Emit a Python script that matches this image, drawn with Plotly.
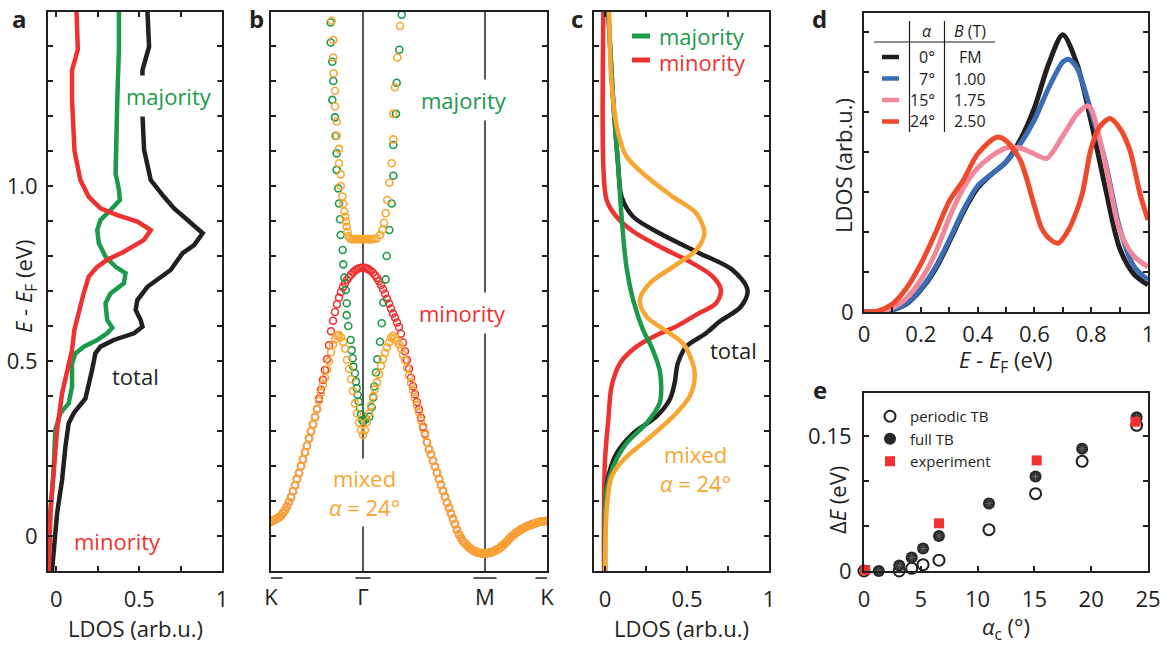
import plotly.graph_objects as go

W, H = 1169, 647
FONT = "Open Sans"
BLACK = "#231f20"
GREEN = "#1b9a4a"
RED = "#ee3131"
ORANGE = "#f8a631"
BLUE = "#3b6db5"
PINK = "#f1879a"
VERMILION = "#ef4a2b"

# ---------------- panel a : LDOS (collinear) ----------------
a_tot_x = [0.55, 0.56, 0.52, 0.52, 0.53, 0.57, 0.65, 0.711, 0.792, 0.883, 0.832, 0.762, 0.69, 0.55,
           0.489, 0.479, 0.509, 0.52, 0.469, 0.347, 0.267, 0.236, 0.216, 0.196, 0.176, 0.105, 0.075,
           0.055, 0.035, 0.005, -0.016, -0.026]
a_tot_E = [1.50, 1.398, 1.331, 1.203, 1.103, 1.017, 0.969, 0.936, 0.903, 0.865, 0.831, 0.808, 0.76, 0.712,
           0.674, 0.646, 0.617, 0.598, 0.579, 0.56, 0.541, 0.522, 0.474, 0.427, 0.393, 0.351, 0.322,
           0.255, 0.16, 0.065, -0.03, -0.1]
a_maj_x = [0.378, 0.378, 0.368, 0.358, 0.358, 0.378, 0.384, 0.327, 0.267, 0.247, 0.257, 0.297, 0.358,
           0.418, 0.408, 0.327, 0.297, 0.307, 0.338, 0.307, 0.247, 0.166, 0.116, 0.095, 0.095, 0.075,
           0.025, -0.006, -0.016, -0.036, -0.046]
a_maj_E = [1.50, 1.39, 1.246, 1.103, 1.036, 0.989, 0.96, 0.931, 0.903, 0.874, 0.836, 0.798, 0.769,
           0.751, 0.722, 0.693, 0.665, 0.617, 0.595, 0.579, 0.56, 0.541, 0.522, 0.493, 0.427, 0.379,
           0.351, 0.303, 0.189, 0.065, -0.1]
a_min_x = [0.122, 0.13, 0.095, 0.095, 0.11, 0.145, 0.196, 0.267, 0.368, 0.489, 0.57, 0.53, 0.408, 0.307,
           0.247, 0.196, 0.165, 0.135, 0.109, 0.095, 0.065, 0.035, 0.005, -0.016, -0.036, -0.046]
a_min_E = [1.50, 1.39, 1.33, 1.246, 1.10, 1.017, 0.969, 0.936, 0.917, 0.898, 0.874, 0.846, 0.812, 0.789,
           0.769, 0.741, 0.693, 0.636, 0.589, 0.531, 0.474, 0.408, 0.303, 0.189, 0.065, -0.1]

# ---------------- panel b : bands (path coordinate, K=0, G=92, M=214, K=276) ----------------
b_tick_k = [0, 92, 214, 276]
b_tick_lab = ["K", "Γ", "M", "K"]
b_step = 2
b_mix_E = [0.041, 0.044, 0.047, 0.050, 0.054, 0.058, 0.066, 0.074, 0.085, 0.097,
           0.111, 0.128, 0.145, 0.163, 0.180, 0.200, 0.219, 0.239, 0.258, 0.279,
           0.299, 0.319, 0.340, 0.363, 0.386, 0.409, 0.432, 0.452, 0.475, 0.499,
           0.525, 0.547, 0.562, 0.572, 0.574, 0.568, 0.555, 0.535, 0.503, 0.477,
           0.448, 0.414, 0.379, 0.350, 0.324, 0.302, 0.289, 0.302, 0.325, 0.350,
           0.373, 0.399, 0.419, 0.439, 0.462, 0.486, 0.506, 0.523, 0.539, 0.553,
           0.566, 0.572, 0.566, 0.558, 0.547, 0.535, 0.518, 0.503, 0.480, 0.458,
           0.437, 0.416, 0.393, 0.373, 0.353, 0.330, 0.308, 0.289, 0.268, 0.248,
           0.233, 0.215, 0.198, 0.181, 0.163, 0.146, 0.129, 0.112, 0.095, 0.080,
           0.064, 0.049, 0.034, 0.018, 0.005, -0.006, -0.015, -0.021, -0.027, -0.032,
           -0.037, -0.041, -0.044, -0.046, -0.048, -0.049, -0.050, -0.050, -0.049, -0.048,
           -0.047, -0.045, -0.042, -0.039, -0.036, -0.031, -0.026, -0.021, -0.015, -0.009,
           -0.003, 0.002, 0.007, 0.011, 0.015, 0.019, 0.022, 0.025, 0.028, 0.030,
           0.032, 0.034, 0.036, 0.038, 0.040, 0.041, 0.042, 0.043, 0.043]
b_min_E = [0.041, 0.044, 0.047, 0.050, 0.054, 0.058, 0.066, 0.074, 0.085, 0.097,
           0.111, 0.128, 0.145, 0.163, 0.180, 0.200, 0.219, 0.239, 0.258, 0.279,
           0.299, 0.319, 0.340, 0.363, 0.392, 0.418, 0.446, 0.474, 0.505, 0.545,
           0.585, 0.615, 0.640, 0.662, 0.681, 0.697, 0.711, 0.722, 0.732, 0.740,
           0.747, 0.753, 0.758, 0.762, 0.765, 0.766, 0.766, 0.766, 0.764, 0.761,
           0.757, 0.752, 0.745, 0.737, 0.728, 0.717, 0.705, 0.692, 0.678, 0.664,
           0.650, 0.636, 0.624, 0.610, 0.597, 0.578, 0.553, 0.528, 0.503, 0.478,
           0.452, 0.428, 0.405, 0.383, 0.362, 0.338, 0.312, 0.292, 0.268, 0.248,
           0.233, 0.215, 0.198, 0.181, 0.163, 0.146, 0.129, 0.112, 0.095, 0.080,
           0.064, 0.049, 0.034, 0.018, 0.005, -0.006, -0.015, -0.021, -0.027, -0.032,
           -0.037, -0.041, -0.044, -0.046, -0.048, -0.049, -0.050, -0.050, -0.049, -0.048,
           -0.047, -0.045, -0.042, -0.039, -0.036, -0.031, -0.026, -0.021, -0.015, -0.009,
           -0.003, 0.002, 0.007, 0.011, 0.015, 0.019, 0.022, 0.025, 0.028, 0.030,
           0.032, 0.034, 0.036, 0.038, 0.040, 0.041, 0.042, 0.043, 0.043]
b_maj_k = [59.7, 59.7, 61.3, 62.3, 61.3, 64.0, 64.7, 65.7, 65.7, 67.3, 68.0, 69.0, 69.7, 71.7, 72.3,
           73.3, 74.7, 75.7, 75.7, 77.3, 79.7, 80.7, 81.7, 82.3, 84.0, 85.0, 85.7, 86.7, 87.7, 89.0,
           90.0, 91.3, 92.5, 95.0, 98.3, 100.7, 102.3, 103.3, 105.0, 106.3, 109.0, 110.7, 112.3,
           114.7, 115.7, 118.3, 120.7, 122.3, 122.3, 125.0, 125.7, 128.3, 130.7]
b_maj_E = [1.467, 1.41, 1.355, 1.30, 1.246, 1.196, 1.143, 1.093, 1.046, 0.993, 0.95, 0.905, 0.86, 0.817,
           0.776, 0.738, 0.703, 0.665, 0.631, 0.60, 0.56, 0.531, 0.508, 0.484, 0.465, 0.441, 0.422,
           0.403, 0.384, 0.365, 0.347, 0.331, 0.327, 0.334, 0.341, 0.368, 0.396, 0.427, 0.467, 0.505,
           0.555, 0.608, 0.667, 0.733, 0.80, 0.874, 0.95, 1.029, 1.117, 1.206, 1.295, 1.389, 1.489]
b_mixup_k = [60.7, 62.3, 62.3, 62.7, 64.0, 64.0, 65.7, 65.7, 68.0, 68.0, 69.7, 69.7, 71.3, 72.3, 73.3,
             74.3, 75.0, 75.7, 76.3, 77.3, 79.0, 81, 83, 85, 87, 89, 91, 93, 95, 97, 99, 101, 103,
             105.7, 109.0, 111.3, 113.0, 114.7, 116.3, 118.3, 120.7, 122.3, 122.3, 124.0, 126.3, 129.0]
b_mixup_E = [1.472, 1.417, 1.367, 1.322, 1.272, 1.227, 1.184, 1.143, 1.106, 1.065, 1.033, 1.0, 0.97,
             0.949, 0.927, 0.912, 0.898, 0.884, 0.869, 0.857, 0.85, 0.848, 0.848, 0.848, 0.848, 0.848,
             0.848, 0.848, 0.848, 0.848, 0.848, 0.848, 0.849, 0.85, 0.86, 0.874, 0.895, 0.922, 0.96,
             1.009, 1.065, 1.133, 1.206, 1.282, 1.367, 1.457]

# ---------------- panel c : LDOS (mixed) ----------------
c_min_x = [-0.01, -0.01, 0.01, 0.07, 0.172, 0.333, 0.535, 0.657, 0.707, 0.677, 0.56, 0.44, 0.333,
           0.192, 0.091, 0.04, 0.02, 0.0, -0.006, -0.006]
c_min_E = [1.50, 1.055, 0.96, 0.912, 0.87, 0.827, 0.779, 0.741, 0.703, 0.665, 0.633, 0.60, 0.578,
           0.541, 0.493, 0.427, 0.331, 0.217, 0.093, -0.1]
c_maj_x = [0.02, 0.05, 0.081, 0.101, 0.131, 0.172, 0.232, 0.283, 0.333, 0.343, 0.333, 0.253, 0.131,
           0.05, 0.01, 0.0, 0.0]
c_maj_E = [1.50, 1.246, 1.055, 0.912, 0.769, 0.674, 0.589, 0.541, 0.474, 0.422, 0.379, 0.322, 0.265,
           0.198, 0.131, 0.041, -0.1]
c_tot_x = [0.02, 0.05, 0.081, 0.101, 0.172, 0.333, 0.576, 0.778, 0.869, 0.828, 0.697, 0.616, 0.495,
           0.444, 0.424, 0.394, 0.313, 0.172, 0.071, 0.02, 0.004, 0.0]
c_tot_E = [1.50, 1.246, 1.055, 0.969, 0.912, 0.865, 0.808, 0.76, 0.703, 0.655, 0.612, 0.579, 0.541,
           0.493, 0.436, 0.389, 0.341, 0.293, 0.236, 0.169, 0.093, -0.1]
c_mix_x = [0.026, 0.04, 0.081, 0.131, 0.253, 0.414, 0.556, 0.606, 0.556, 0.414, 0.273, 0.212, 0.253,
           0.353, 0.475, 0.535, 0.548, 0.515, 0.414, 0.253, 0.111, 0.04, 0.02, 0.006, 0.0]
c_mix_E = [1.50, 1.293, 1.15, 1.084, 1.027, 0.969, 0.922, 0.865, 0.817, 0.769, 0.722, 0.674, 0.627,
           0.592, 0.55, 0.493, 0.455, 0.398, 0.341, 0.274, 0.217, 0.169, 0.122, 0.04, -0.1]

# ---------------- panel d : LDOS vs energy for several angles ----------------
d_angle = ["0°", "7°", "15°", "24°"]
d_field = ["FM", "1.00", "1.75", "2.50"]
d_x0 = [0, 0.05, 0.1, 0.15, 0.2, 0.25, 0.3, 0.35, 0.4, 0.45, 0.5, 0.55, 0.6, 0.65, 0.7, 0.75, 0.8,
        0.85, 0.9, 0.95, 1.0]
d_y0 = [0, 0.01, 0.05, 0.2, 0.55, 1.05, 1.75, 2.5, 3.1, 3.45, 3.75, 4.3, 5.1, 6.2, 6.93, 6.2, 4.75,
        3.1, 1.6, 0.95, 0.68]
d_x7 = [0, 0.05, 0.1, 0.15, 0.2, 0.25, 0.3, 0.35, 0.4, 0.45, 0.5, 0.55, 0.6, 0.65, 0.7, 0.72, 0.75,
        0.8, 0.85, 0.9, 0.95, 1.0]
d_y7 = [0, 0.01, 0.05, 0.22, 0.58, 1.1, 1.8, 2.55, 3.15, 3.45, 3.75, 4.2, 4.8, 5.6, 6.25, 6.32, 6.1,
        5.0, 3.75, 2.1, 1.15, 0.8]
d_x15 = [0, 0.05, 0.1, 0.15, 0.2, 0.25, 0.3, 0.35, 0.4, 0.45, 0.5, 0.55, 0.6, 0.643, 0.7, 0.75,
         0.786, 0.8, 0.85, 0.9, 0.95, 1.0]
d_y15 = [0, 0.02, 0.1, 0.35, 0.8, 1.45, 2.35, 3.1, 3.6, 3.9, 4.1, 4.1, 3.95, 3.84, 4.4, 4.95, 5.15,
         5.08, 3.7, 2.05, 1.4, 1.13]
d_x24 = [0, 0.05, 0.1, 0.15, 0.2, 0.25, 0.3, 0.35, 0.4, 0.467, 0.5, 0.55, 0.6, 0.625, 0.65, 0.684,
         0.72, 0.75, 0.77, 0.8, 0.83, 0.866, 0.9, 0.936, 0.972, 1.0]
d_y24 = [0, 0.03, 0.2, 0.6, 1.2, 1.95, 2.77, 3.3, 3.95, 4.37, 4.28, 3.8, 2.65, 2.1, 1.85, 1.72, 2.05,
         2.55, 3.0, 4.1, 4.63, 4.84, 4.6, 4.05, 2.95, 2.3]

# ---------------- panel e : gap vs canting angle ----------------
e_per_a = [0, 3.1, 4.2, 5.2, 6.6, 11.0, 15.1, 19.2, 24.0]
e_per_dE = [0.0, 0.0, 0.003, 0.007, 0.012, 0.046, 0.086, 0.122, 0.162]
e_full_a = [1.3, 3.1, 4.2, 5.2, 6.6, 11.0, 15.1, 19.2, 24.0]
e_full_dE = [0.0, 0.006, 0.015, 0.025, 0.039, 0.075, 0.105, 0.136, 0.171]
e_exp_a = [0.1, 6.6, 15.2, 23.9]
e_exp_dE = [0.001, 0.053, 0.123, 0.166]


def fx(p):
    return p / W


def fy(p):
    return 1 - p / H


fig = go.Figure()

# panel a
for xs, ys, col in [(a_tot_x, a_tot_E, BLACK), (a_maj_x, a_maj_E, GREEN), (a_min_x, a_min_E, RED)]:
    fig.add_trace(go.Scatter(x=xs, y=ys, mode="lines", line=dict(color=col, width=4.5),
                             xaxis="x", yaxis="y", showlegend=False))

# panel b
b_k_dense = [b_step * i for i in range(len(b_mix_E))]
mk = dict(symbol="circle-open", size=7, line=dict(width=1.6))
fig.add_trace(go.Scatter(x=b_k_dense, y=b_min_E, mode="markers", marker=dict(color=RED, **mk),
                         xaxis="x2", yaxis="y2", showlegend=False))
fig.add_trace(go.Scatter(x=b_maj_k, y=b_maj_E, mode="markers", marker=dict(color=GREEN, **mk),
                         xaxis="x2", yaxis="y2", showlegend=False))
fig.add_trace(go.Scatter(x=b_k_dense, y=b_mix_E, mode="markers", marker=dict(color=ORANGE, **mk),
                         xaxis="x2", yaxis="y2", showlegend=False))
fig.add_trace(go.Scatter(x=b_mixup_k, y=b_mixup_E, mode="markers", marker=dict(color=ORANGE, **mk),
                         xaxis="x2", yaxis="y2", showlegend=False))

# panel c
for xs, ys, col in [(c_min_x, c_min_E, RED), (c_tot_x, c_tot_E, BLACK), (c_maj_x, c_maj_E, GREEN),
                    (c_mix_x, c_mix_E, ORANGE)]:
    fig.add_trace(go.Scatter(x=xs, y=ys, mode="lines", line=dict(color=col, width=4.5, shape="spline",
                                                                 smoothing=0.9),
                             xaxis="x3", yaxis="y3", showlegend=False))

# panel d
d_colors = [BLACK, BLUE, PINK, VERMILION]
for xs, ys, col in zip([d_x0, d_x7, d_x15, d_x24], [d_y0, d_y7, d_y15, d_y24], d_colors):
    fig.add_trace(go.Scatter(x=xs, y=ys, mode="lines", line=dict(color=col, width=5, shape="spline",
                                                                 smoothing=0.8),
                             xaxis="x4", yaxis="y4", showlegend=False))

# panel e
fig.add_trace(go.Scatter(x=e_per_a, y=e_per_dE, mode="markers", name="periodic TB",
                         marker=dict(symbol="circle-open", size=11, color=BLACK, line=dict(width=2)),
                         xaxis="x5", yaxis="y5", cliponaxis=False))
fig.add_trace(go.Scatter(x=e_full_a, y=e_full_dE, mode="markers", name="full TB",
                         marker=dict(symbol="circle", size=12, color="#262626"),
                         xaxis="x5", yaxis="y5", cliponaxis=False))
fig.add_trace(go.Scatter(x=e_full_a, y=e_full_dE, mode="markers", showlegend=False,
                         marker=dict(symbol="asterisk-open", size=7, color="#5e5e5e",
                                     line=dict(width=1, color="#5e5e5e")),
                         xaxis="x5", yaxis="y5", cliponaxis=False))
fig.add_trace(go.Scatter(x=e_exp_a, y=e_exp_dE, mode="markers", name="experiment",
                         marker=dict(symbol="square", size=10, color=RED),
                         xaxis="x5", yaxis="y5", cliponaxis=False))

# ---------------- axes ----------------
tickfont = dict(size=22, family=FONT, color=BLACK)
base = dict(showline=True, linecolor=BLACK, linewidth=2, ticks="inside", ticklen=5, tickwidth=1.5,
            tickcolor=BLACK, showgrid=False, zeroline=False, tickfont=tickfont, automargin=False)

dom_a = [fx(48), fx(222)]
dom_b = [fx(271), fx(547)]
dom_c = [fx(594), fx(769)]
dom_de = [fx(864), fx(1148)]
dom_abc_y = [fy(571), fy(12)]

E_ticks = [round(0.1 * i, 1) for i in range(15)]
E_text = ["0" if v == 0 else ("0.5" if v == 0.5 else ("1.0" if v == 1.0 else "")) for v in E_ticks]
ldos_ticks = [0, 0.25, 0.5, 0.75, 1]
ldos_text = ["0", "", "0.5", "", "1"]

fig.update_layout(
    xaxis=dict(base, domain=dom_a, range=[-0.05, 1.0], tickvals=ldos_ticks, ticktext=ldos_text,
               mirror="ticks", anchor="y", ticklabelstandoff=8),
    yaxis=dict(base, domain=dom_abc_y, range=[-0.1, 1.497], tickvals=E_ticks, ticktext=E_text,
               mirror="ticks", anchor="x", ticklabelstandoff=4),
    xaxis2=dict(base, domain=dom_b, range=[0, 276], tickvals=b_tick_k, ticktext=b_tick_lab,
                ticks="", mirror=True, anchor="y2", ticklabelstandoff=6),
    yaxis2=dict(base, domain=dom_abc_y, range=[-0.1, 1.497], tickvals=E_ticks, showticklabels=False,
                mirror="ticks", anchor="x2"),
    xaxis3=dict(base, domain=dom_c, range=[-0.067, 1.0], tickvals=ldos_ticks, ticktext=ldos_text,
                mirror="ticks", anchor="y3", ticklabelstandoff=8),
    yaxis3=dict(base, domain=dom_abc_y, range=[-0.1, 1.497], tickvals=E_ticks, showticklabels=False,
                mirror="ticks", anchor="x3"),
    xaxis4=dict(base, domain=dom_de, range=[0, 1], tickvals=[round(0.1 * i, 1) for i in range(11)],
                ticktext=["0", "", "0.2", "", "0.4", "", "0.6", "", "0.8", "", "1"],
                mirror=True, anchor="y4", ticklabelstandoff=2),
    yaxis4=dict(base, domain=[fy(312), fy(13)], range=[0, 7.475], tickvals=list(range(8)),
                ticktext=["0", "", "", "", "", "", "", ""], mirror="ticks", anchor="x4",
                ticklabelstandoff=4),
    xaxis5=dict(base, domain=dom_de, range=[0, 25], tickvals=[0, 5, 10, 15, 20, 25],
                mirror=True, anchor="y5", ticklabelstandoff=8),
    yaxis5=dict(base, domain=[fy(571), fy(393)], range=[0, 0.198], tickvals=[0, 0.05, 0.1, 0.15],
                ticktext=["0", "", "", "0.15"], mirror="ticks", anchor="x5", ticklabelstandoff=6),
    width=W, height=H, margin=dict(l=0, r=0, t=0, b=0, autoexpand=False),
    paper_bgcolor="white", plot_bgcolor="white",
    font=dict(family=FONT, color=BLACK),
    legend=dict(x=fx(870), y=fy(400), xanchor="left", yanchor="top",
                font=dict(size=15, family=FONT, color=BLACK), bgcolor="rgba(0,0,0,0)",
                tracegroupgap=0, itemwidth=30, traceorder="normal"),
)

# ---------------- shapes ----------------
shapes = []
for kv in b_tick_k[1:3]:
    shapes.append(dict(type="line", xref="x2", yref="y2", x0=kv, x1=kv, y0=-0.1, y1=1.497,
                       line=dict(color=BLACK, width=1.5), layer="below"))
over_w = [17, 15, 23, 17]
over_dx = [3, 0, 0, -3]
for kv, w, dx in zip(b_tick_k, over_w, over_dx):
    shapes.append(dict(type="line", xref="x2", yref="paper", x0=kv + dx - w / 2, x1=kv + dx + w / 2,
                       y0=fy(578), y1=fy(578), line=dict(color=BLACK, width=1.5)))
# panel c legend samples
for yy, col in [(36, GREEN), (60, RED)]:
    shapes.append(dict(type="line", xref="paper", yref="paper", x0=fx(632), x1=fx(650), y0=fy(yy),
                       y1=fy(yy), line=dict(color=col, width=5)))
# panel d legend table
rows_y = [57, 78.5, 100, 121.5]
for yy, col in zip(rows_y, d_colors):
    shapes.append(dict(type="line", xref="paper", yref="paper", x0=fx(882), x1=fx(899), y0=fy(yy),
                       y1=fy(yy), line=dict(color=col, width=4.5)))
shapes.append(dict(type="line", xref="paper", yref="paper", x0=fx(874), x1=fx(995), y0=fy(42),
                   y1=fy(42), line=dict(color=BLACK, width=1.2)))
for xx in [909.5, 944.5]:
    shapes.append(dict(type="line", xref="paper", yref="paper", x0=fx(xx), x1=fx(xx), y0=fy(21),
                       y1=fy(132), line=dict(color=BLACK, width=1.2)))
fig.update_layout(shapes=shapes)

# ---------------- annotations ----------------
ann = []


def txt(x, y, s, size=22, color=BLACK, bg=None, angle=0, xanchor="center", yanchor="middle",
        bold=False, pad=1):
    d = dict(x=fx(x), y=fy(y), xref="paper", yref="paper", text=s, showarrow=False,
             font=dict(size=size, family=FONT, color=color), xanchor=xanchor, yanchor=yanchor,
             textangle=angle, borderpad=pad)
    if bg:
        d["bgcolor"] = bg
    if bold:
        d["text"] = "<b>" + s + "</b>"
    ann.append(d)


# panel letters
for lx, ly, s in [(19, 1, "a"), (256, 1, "b"), (577, 1, "c"), (820, 1, "d"), (820, 372, "e")]:
    txt(lx, ly, s, size=24, bold=True, yanchor="top", pad=0)

# panel a
txt(169, 96, "majority", color=GREEN, bg="white", pad=5)
txt(135, 376, "total", bg="white")
txt(117, 541, "minority", color=RED, bg="white")
txt(135, 628, "LDOS (arb.u.)")
txt(25, 287, "<i>E</i> - <i>E</i><sub>F</sub> (eV)", angle=-90)
# panel b
txt(464, 100, "majority", color=GREEN, bg="white", pad=5)
txt(462, 313, "minority", color=RED, bg="white", pad=5)
txt(364, 492, "mixed<br><i>α</i> = 24°", color=ORANGE, bg="white", pad=4)
# panel c
txt(657, 36, "majority", color=GREEN, xanchor="left")
txt(657, 62, "minority", color=RED, xanchor="left")
txt(733, 350, "total", bg="white")
txt(695, 468, "mixed<br><i>α</i> = 24°", color=ORANGE, bg="white")
txt(681, 628, "LDOS (arb.u.)")
# panel d
txt(927, 31, "<i>α</i>", size=16)
txt(970, 31, "<i>B</i> (T)", size=16)
for yy, s1, s2 in zip(rows_y, d_angle, d_field):
    txt(937, yy, s1, size=16, xanchor="right")
    txt(970, yy, s2, size=16)
txt(843, 166, "LDOS (arb.u.)", angle=-90)
txt(1005, 361, "<i>E</i> - <i>E</i><sub>F</sub> (eV)")
# panel e
txt(837, 500, "Δ<i>E</i> (eV)", angle=-90)
txt(1006, 628, "<i>α</i><sub>c</sub> (°)")

fig.update_layout(annotations=ann)
fig.write_html("out.html")
